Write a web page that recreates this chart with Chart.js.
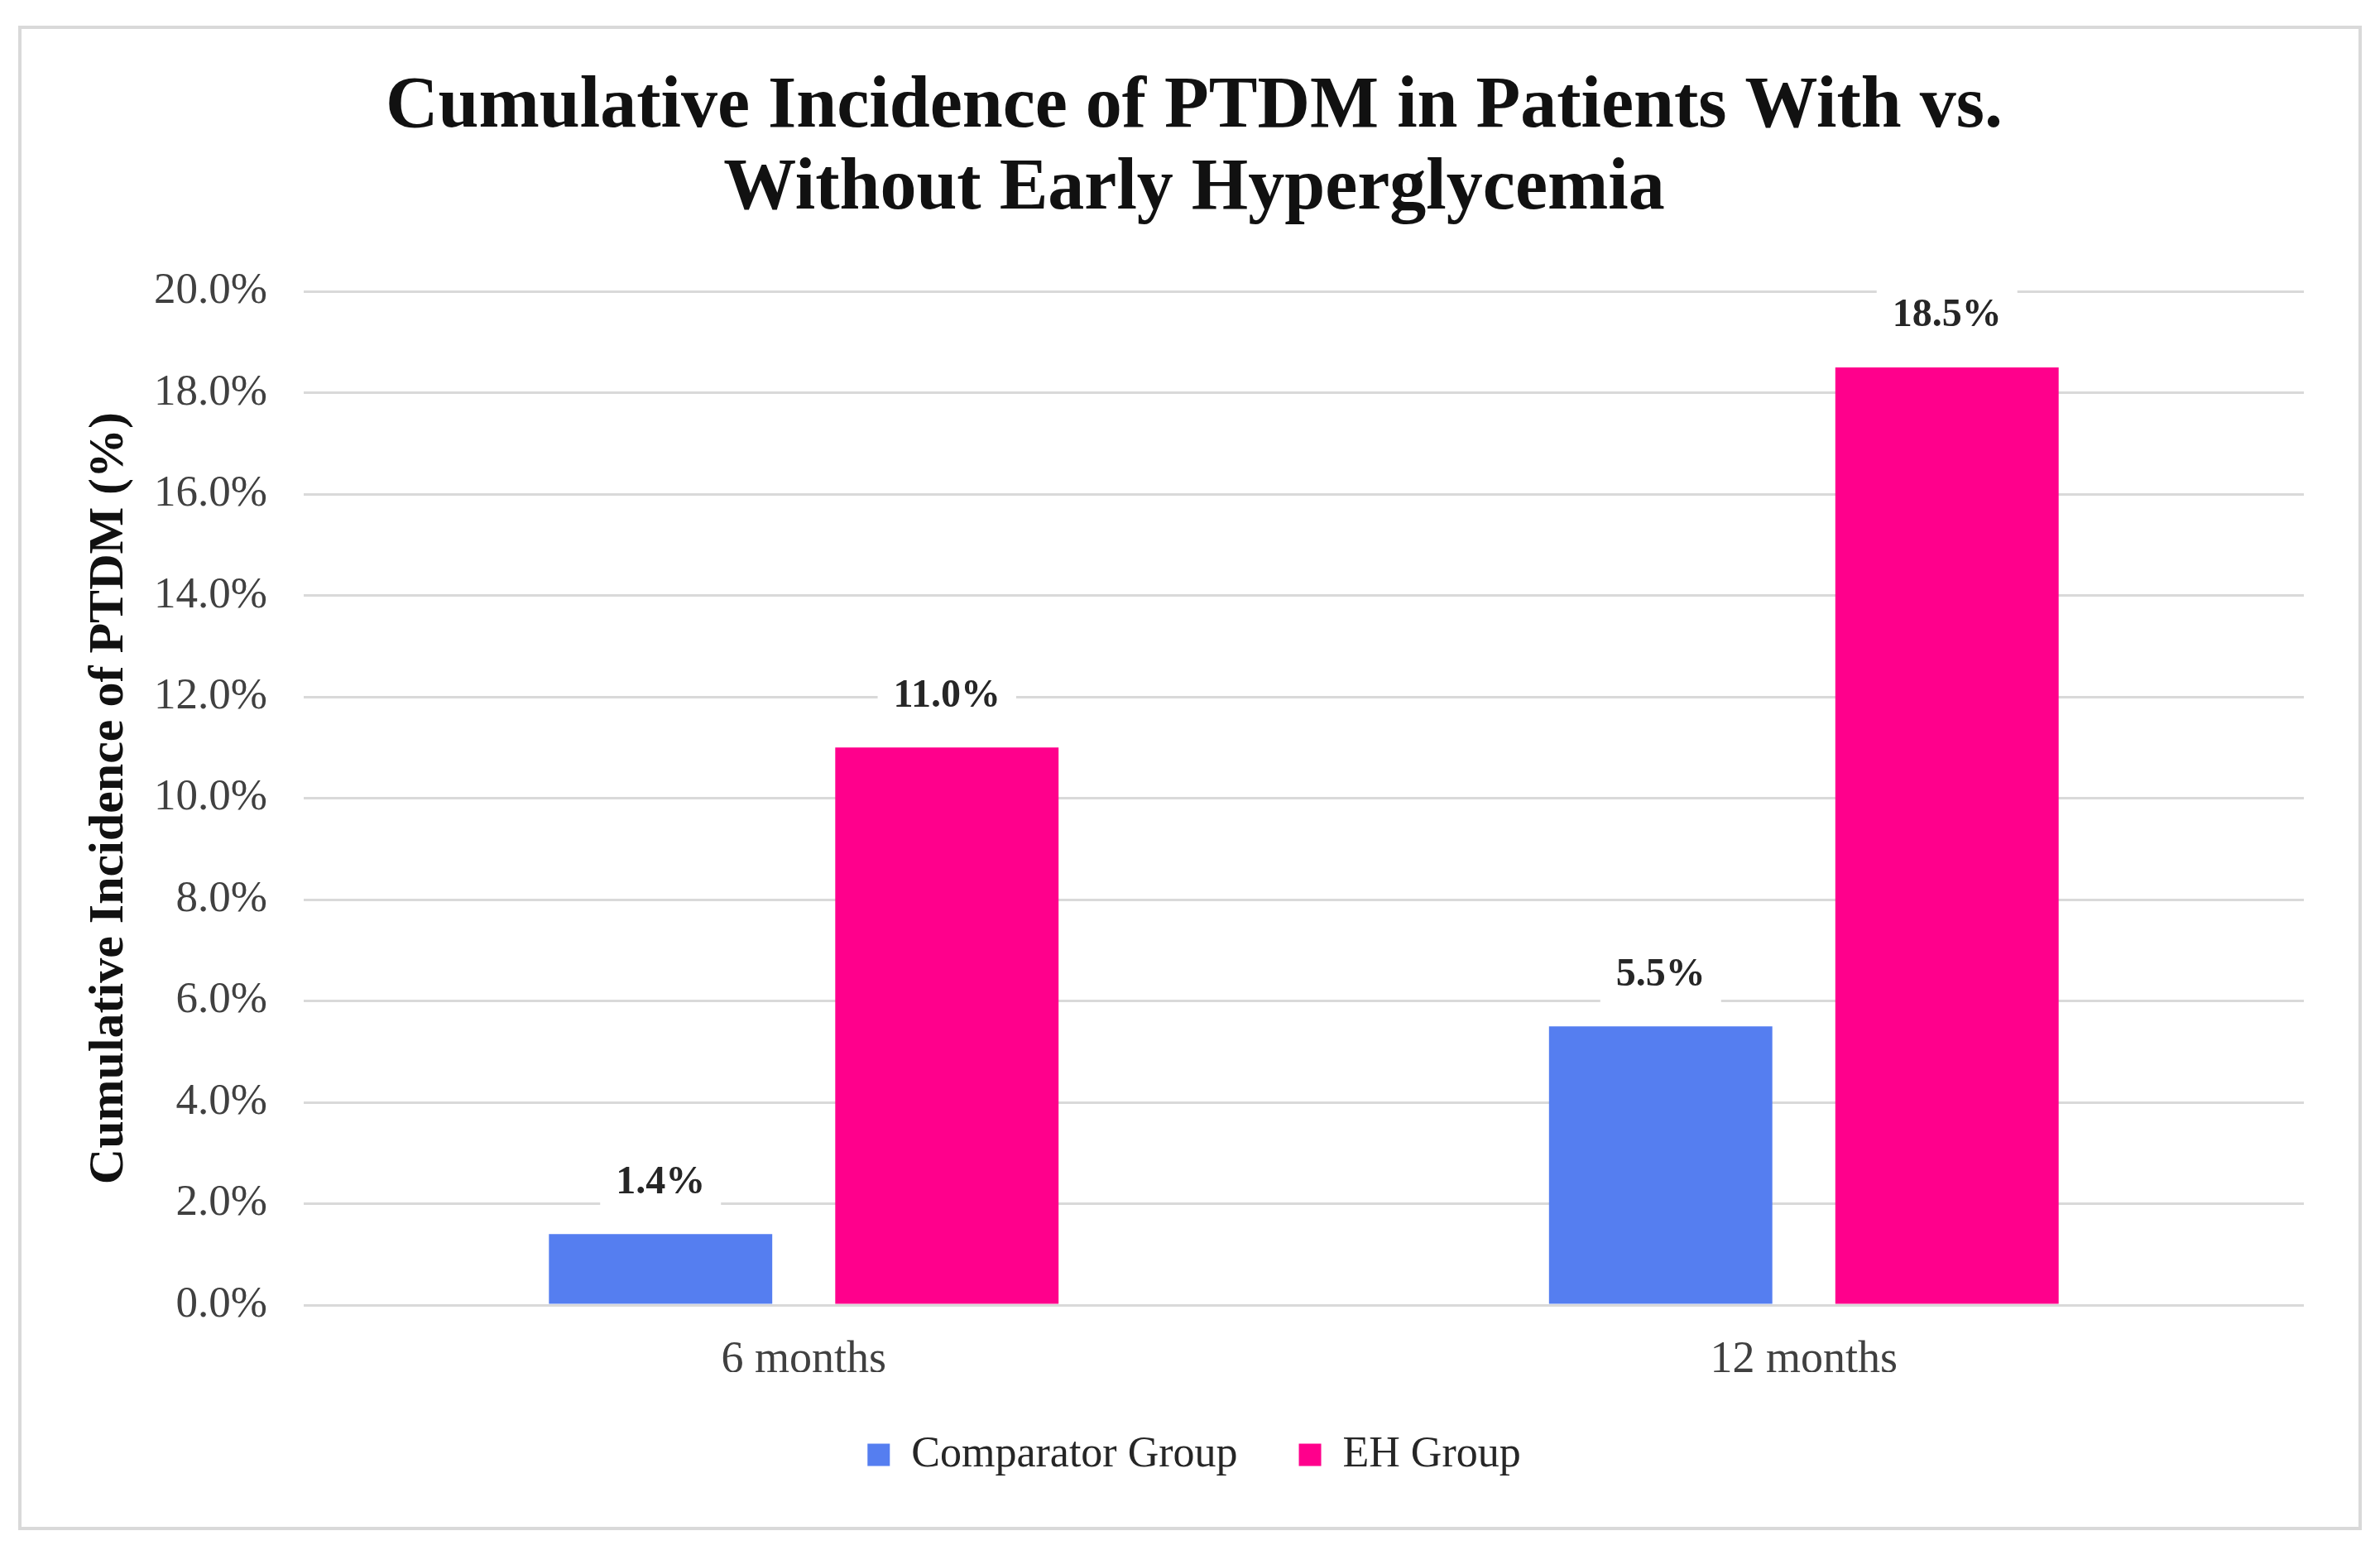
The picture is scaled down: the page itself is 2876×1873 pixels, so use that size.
<!DOCTYPE html>
<html>
<head>
<meta charset="utf-8">
<script src="https://cdn.jsdelivr.net/npm/chart.js@4.4.0/dist/chart.umd.min.js"></script>
<style>
  html, body { margin: 0; padding: 0; background: #fff; }
  #frame { position: absolute; left: 22px; top: 31px; width: 2832px; height: 1818px; border: 4px solid #d9d9d9; box-sizing: border-box; }
  canvas { position: absolute; left: 0; top: 0; }
</style>
</head>
<body>
<div id="frame"></div>
<canvas id="chart" width="2876" height="1873"></canvas>
<script>
var categories = ["6 months", "12 months"];
var comparatorValues = [1.4, 5.5];
var ehValues = [11.0, 18.5];
var yTickValues = [0, 2, 4, 6, 8, 10, 12, 14, 16, 18, 20];

var serif = "'Liberation Serif', 'Times New Roman', serif";

// value labels above bars, with a white box that cuts the gridline
var barLabels = {
  id: "barLabels",
  afterDatasetsDraw: function (chart) {
    var ctx = chart.ctx;
    ctx.save();
    ctx.font = "bold 48px " + serif;
    ctx.textAlign = "center";
    ctx.textBaseline = "middle";
    chart.data.datasets.forEach(function (ds, i) {
      chart.getDatasetMeta(i).data.forEach(function (bar, j) {
        var txt = ds.data[j].toFixed(1) + "%";
        var w = ctx.measureText(txt).width + 38;
        var y = bar.y - 62;
        ctx.fillStyle = "#fff";
        ctx.fillRect(bar.x - w / 2, y - 34, w, 68);
        ctx.fillStyle = "#262626";
        ctx.fillText(txt, bar.x, y);
      });
    });
    ctx.restore();
  }
};

var ctx = document.getElementById("chart").getContext("2d");
var myChart = new Chart(ctx, {
  type: "bar",
  data: {
    labels: categories,
    datasets: [
      {
        label: "Comparator Group",
        data: comparatorValues,
        backgroundColor: "#557ef0",
        categoryPercentage: 0.5726,
        barPercentage: 0.78
      },
      {
        label: "EH Group",
        data: ehValues,
        backgroundColor: "#ff008c",
        categoryPercentage: 0.5726,
        barPercentage: 0.78
      }
    ]
  },
  options: {
    responsive: false,
    devicePixelRatio: 1,
    animation: false,
    layout: { padding: { left: 10, right: 0, top: 0, bottom: 79 } },
    plugins: {
      title: {
        display: true,
        text: ["Cumulative Incidence of PTDM in Patients With vs.", "Without Early Hyperglycemia"],
        color: "#111",
        font: { family: serif, size: 88, weight: "bold", lineHeight: 1.12 },
        padding: { top: 81, bottom: 74 }
      },
      legend: {
        position: "bottom",
        labels: {
          color: "#262626",
          font: { family: serif, size: 52 },
          boxWidth: 27,
          boxHeight: 27,
          padding: 74
        }
      },
      tooltip: { enabled: false }
    },
    scales: {
      x: {
        grid: { display: false },
        border: { display: false },
        ticks: { color: "#404040", font: { family: serif, size: 54 }, padding: 26 },
        afterFit: function (s) { s.height = 81; }
      },
      y: {
        min: 0,
        max: 20,
        afterBuildTicks: function (s) {
          s.ticks = yTickValues.map(function (v) { return { value: v }; });
        },
        grid: { color: "#d9d9d9", lineWidth: 3, drawTicks: false },
        border: { display: false },
        ticks: {
          color: "#404040",
          font: { family: serif, size: 53 },
          padding: 44,
          callback: function (v) { return v.toFixed(1) + "%"; }
        },
        title: {
          display: true,
          text: "Cumulative Incidence of PTDM (%)",
          color: "#111",
          font: { family: serif, size: 60, weight: "bold", lineHeight: 1.2 },
          padding: { top: 86, bottom: 0 }
        },
        afterFit: function (s) { s.width = 357; }
      },
      yRight: {
        position: "right",
        grid: { display: false },
        border: { display: false },
        ticks: { display: false },
        afterFit: function (s) { s.width = 92; }
      }
    }
  },
  plugins: [barLabels]
});
</script>
</body>
</html>
